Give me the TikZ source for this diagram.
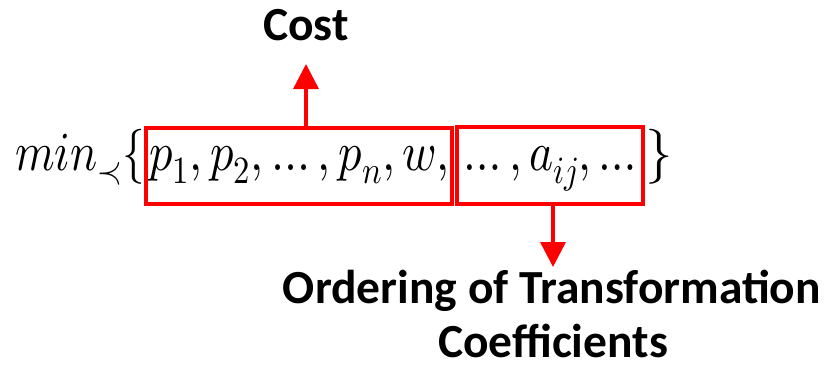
\documentclass[tikz,border=0pt]{standalone}
\usepackage{fontspec}
\usepackage{unicode-math}
\setmathfont{Latin Modern Math}
\newfontfamily\labelfont{Carlito}
\usetikzlibrary{arrows.meta}
\definecolor{hilite}{RGB}{255,0,0}
\tikzset{
  mathpart/.style={inner sep=0pt, anchor=base west, font=\fontsize{55}{60}\selectfont},
  markbox/.style={draw=hilite, line width=3.5pt, inner sep=0pt},
  pointer/.style={draw=hilite, line width=3.5pt,
    -{Triangle[length=25pt,width=25pt]}},
  caption/.style={font=\labelfont\bfseries\fontsize{47.5}{57}\selectfont,
    inner sep=0pt, anchor=base}
}
\begin{document}
\begin{tikzpicture}[x=1pt,y=-1pt]
\useasboundingbox (0,0) rectangle (827,367);
% the minimisation expression, in four pieces
\node[mathpart] (lhs) at (15,170) {\resizebox{130pt}{\height}{$min_{\prec}\{$}};
\node[mathpart] (costterms) at (149,170) {\resizebox{300pt}{\height}{$p_1,p_2,\ldots,p_n,w,$}};
\node[mathpart] (orderterms) at (463,170) {\resizebox{174pt}{\height}{$\ldots,a_{ij},\ldots$}};
\node[mathpart] (rbrace) at (645,170) {$\}$};
% highlight boxes
\node[markbox, minimum width=306pt, minimum height=76pt] (costbox) at (299,166) {};
\node[markbox, minimum width=186pt, minimum height=77pt] (orderbox) at (550,165.5) {};
% labels
\node[caption] (cost) at (306,40) {Cost};
\node[caption] (order) at (552,303) {Ordering of Transformation};
\node[caption] (coeff) at (553,357) {Coefficients};
\coordinate (costtip) at (306,64);
\coordinate (ordertip) at (553,267);
\draw[pointer] ([xshift=7pt]costbox.north) -- (costtip);
\draw[pointer] ([xshift=3pt]orderbox.south) -- (ordertip);
\end{tikzpicture}
\end{document}
